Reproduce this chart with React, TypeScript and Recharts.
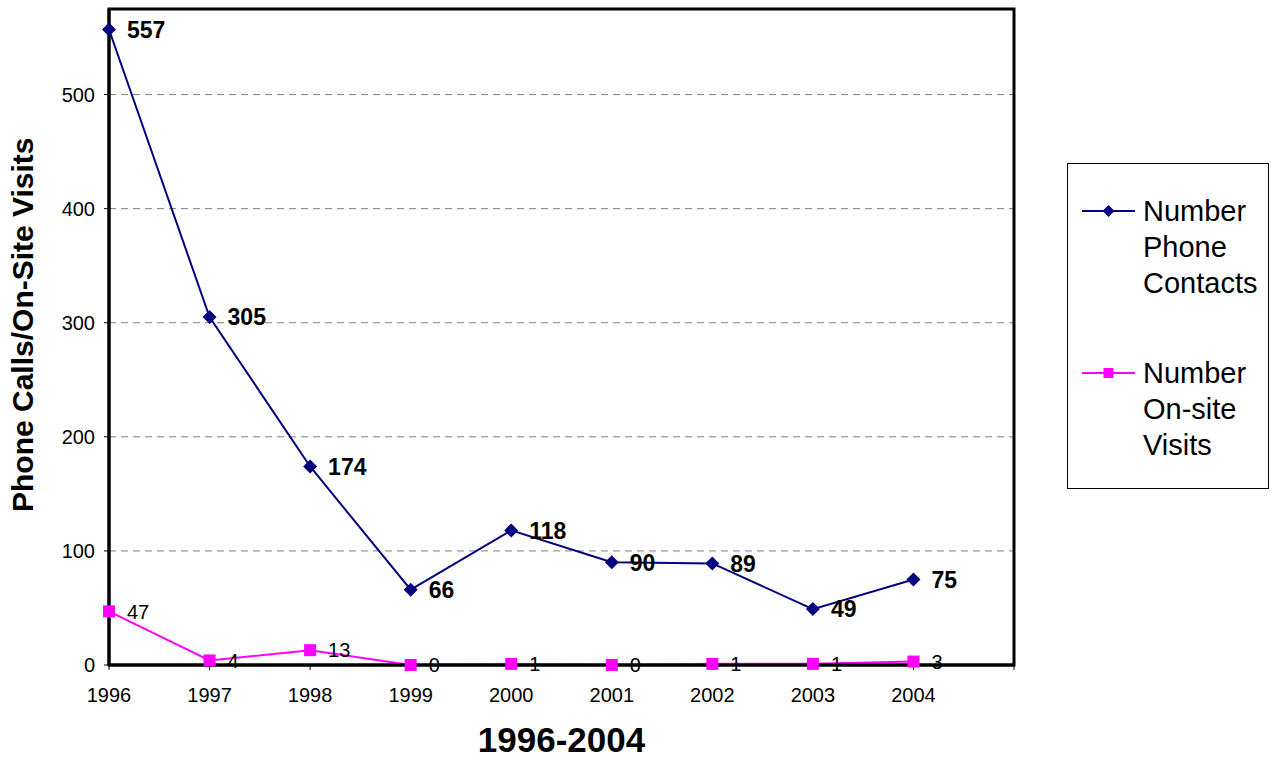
import React from "react";
import {
  LineChart,
  Line,
  XAxis,
  YAxis,
  CartesianGrid,
  Legend,
  ReferenceArea,
} from "recharts";

const years = [1996, 1997, 1998, 1999, 2000, 2001, 2002, 2003, 2004];
const phoneContacts = [557, 305, 174, 66, 118, 90, 89, 49, 75];
const onSiteVisits = [47, 4, 13, 0, 1, 0, 1, 1, 3];
const xTicks = [1996, 1997, 1998, 1999, 2000, 2001, 2002, 2003, 2004, 2005];
const yTicks = [0, 100, 200, 300, 400, 500];

const FONT = "'Liberation Sans', Arial, sans-serif";
const NAVY = "#000080";
const MAGENTA = "#FF00FF";

const data = years.map((year, i) => ({
  year,
  phone: phoneContacts[i],
  visits: onSiteVisits[i],
}));

const Diamond = (props: any) => {
  const { cx, cy, index } = props;
  if (cx == null || cy == null) return null;
  const r = 7;
  return (
    <polygon
      key={`dia-${index}`}
      points={`${cx},${cy - r} ${cx + r},${cy} ${cx},${cy + r} ${cx - r},${cy}`}
      fill={NAVY}
    />
  );
};

const Square = (props: any) => {
  const { cx, cy, index } = props;
  if (cx == null || cy == null) return null;
  return (
    <rect key={`sq-${index}`} x={cx - 6} y={cy - 6} width={12} height={12} fill={MAGENTA} />
  );
};

const phoneLabel = (props: any) => (
  <text
    key={`pl-${props.index}`}
    x={props.x + 18}
    y={props.y}
    dy="0.36em"
    fontSize={23}
    fontWeight="bold"
    fontFamily={FONT}
    fill="#000"
  >
    {props.value}
  </text>
);

const visitLabel = (props: any) => (
  <text
    key={`vl-${props.index}`}
    x={props.x + 18}
    y={props.y}
    dy="0.36em"
    fontSize={20}
    fontFamily={FONT}
    fill="#000"
  >
    {props.value}
  </text>
);

const YTitle = () => (
  <g>
    <defs>
      <clipPath id="ytitle-clip">
        <rect x={0} y={139} width={60} height={500} />
      </clipPath>
    </defs>
    <g clipPath="url(#ytitle-clip)">
      <text
        transform="translate(33,512) rotate(-90)"
        textAnchor="start"
        fontSize={30}
        fontWeight="bold"
        fontFamily={FONT}
        fill="#000"
      >
        Phone Calls/On-Site Visits
      </text>
    </g>
  </g>
);

const legendItems = [
  { lines: ["Number", "Phone", "Contacts"], color: NAVY, shape: "diamond", top: 29 },
  { lines: ["Number", "On-site", "Visits"], color: MAGENTA, shape: "square", top: 191 },
];

const renderLegend = () => (
  <div
    style={{
      position: "relative",
      width: 202,
      height: 326,
      border: "1px solid #000",
      boxSizing: "border-box",
      background: "#fff",
      fontFamily: FONT,
    }}
  >
    {legendItems.map((item) => (
      <div key={item.lines[0] + item.top} style={{ position: "absolute", left: 0, top: item.top }}>
        <svg width={60} height={36} style={{ position: "absolute", left: 14, top: 0 }}>
          <line x1={0} y1={18} x2={53} y2={18} stroke={item.color} strokeWidth={2} />
          {item.shape === "diamond" ? (
            <polygon points="26.5,12 32.5,18 26.5,24 20.5,18" fill={item.color} />
          ) : (
            <rect x={21.5} y={13} width={10} height={10} fill={item.color} />
          )}
        </svg>
        <div
          style={{
            position: "absolute",
            left: 75,
            top: 0,
            fontSize: 29,
            lineHeight: "36px",
            color: "#000",
            whiteSpace: "nowrap",
          }}
        >
          {item.lines.map((l) => (
            <div key={l}>{l}</div>
          ))}
        </div>
      </div>
    ))}
  </div>
);

export default function App() {
  return (
    <div style={{ position: "absolute", left: 0, top: 0, fontFamily: FONT, background: "#fff" }}>
      <LineChart
        width={1272}
        height={759}
        data={data}
        margin={{ top: 9, right: 56, left: 0, bottom: 0 }}
      >
        <CartesianGrid
          vertical={false}
          stroke="#808080"
          strokeDasharray="7 5"
        />
        <ReferenceArea
          x1={1996}
          x2={2005}
          y1={0}
          y2={575}
          fill="none"
          fillOpacity={0}
          stroke="#000"
          strokeWidth={3}
        />
        <XAxis
          dataKey="year"
          type="number"
          domain={[1996, 2005]}
          ticks={xTicks}
          interval={0}
          tickFormatter={(v) => (v === 2005 ? "" : String(v))}
          axisLine={{ stroke: "#000", strokeWidth: 3 }}
          tickLine={{ stroke: "#000" }}
          tickSize={5}
          tickMargin={18}
          tick={{ fontSize: 20, fill: "#000", fontFamily: FONT }}
          height={94}
          label={{
            value: "1996-2004",
            position: "insideBottom",
            offset: 7,
            fontSize: 35,
            fontWeight: "bold",
            fill: "#000",
            fontFamily: FONT,
          }}
        />
        <YAxis
          domain={[0, 575]}
          ticks={yTicks}
          interval={0}
          axisLine={{ stroke: "#000", strokeWidth: 3 }}
          tickLine={{ stroke: "#000" }}
          tickSize={5}
          tickMargin={9}
          tick={{ fontSize: 20, fill: "#000", fontFamily: FONT }}
          width={109}
          label={{ content: <YTitle /> }}
        />
        <Legend
          layout="vertical"
          align="right"
          verticalAlign="middle"
          width={202}
          height={326}
          content={renderLegend}
          wrapperStyle={{ left: 1067, top: 163, width: 202, height: 326 }}
        />
        <Line
          type="linear"
          dataKey="phone"
          name="Number Phone Contacts"
          stroke={NAVY}
          strokeWidth={2}
          dot={Diamond}
          activeDot={false}
          label={phoneLabel}
          isAnimationActive={false}
        />
        <Line
          type="linear"
          dataKey="visits"
          name="Number On-site Visits"
          stroke={MAGENTA}
          strokeWidth={2}
          dot={Square}
          activeDot={false}
          label={visitLabel}
          isAnimationActive={false}
        />
      </LineChart>
    </div>
  );
}
